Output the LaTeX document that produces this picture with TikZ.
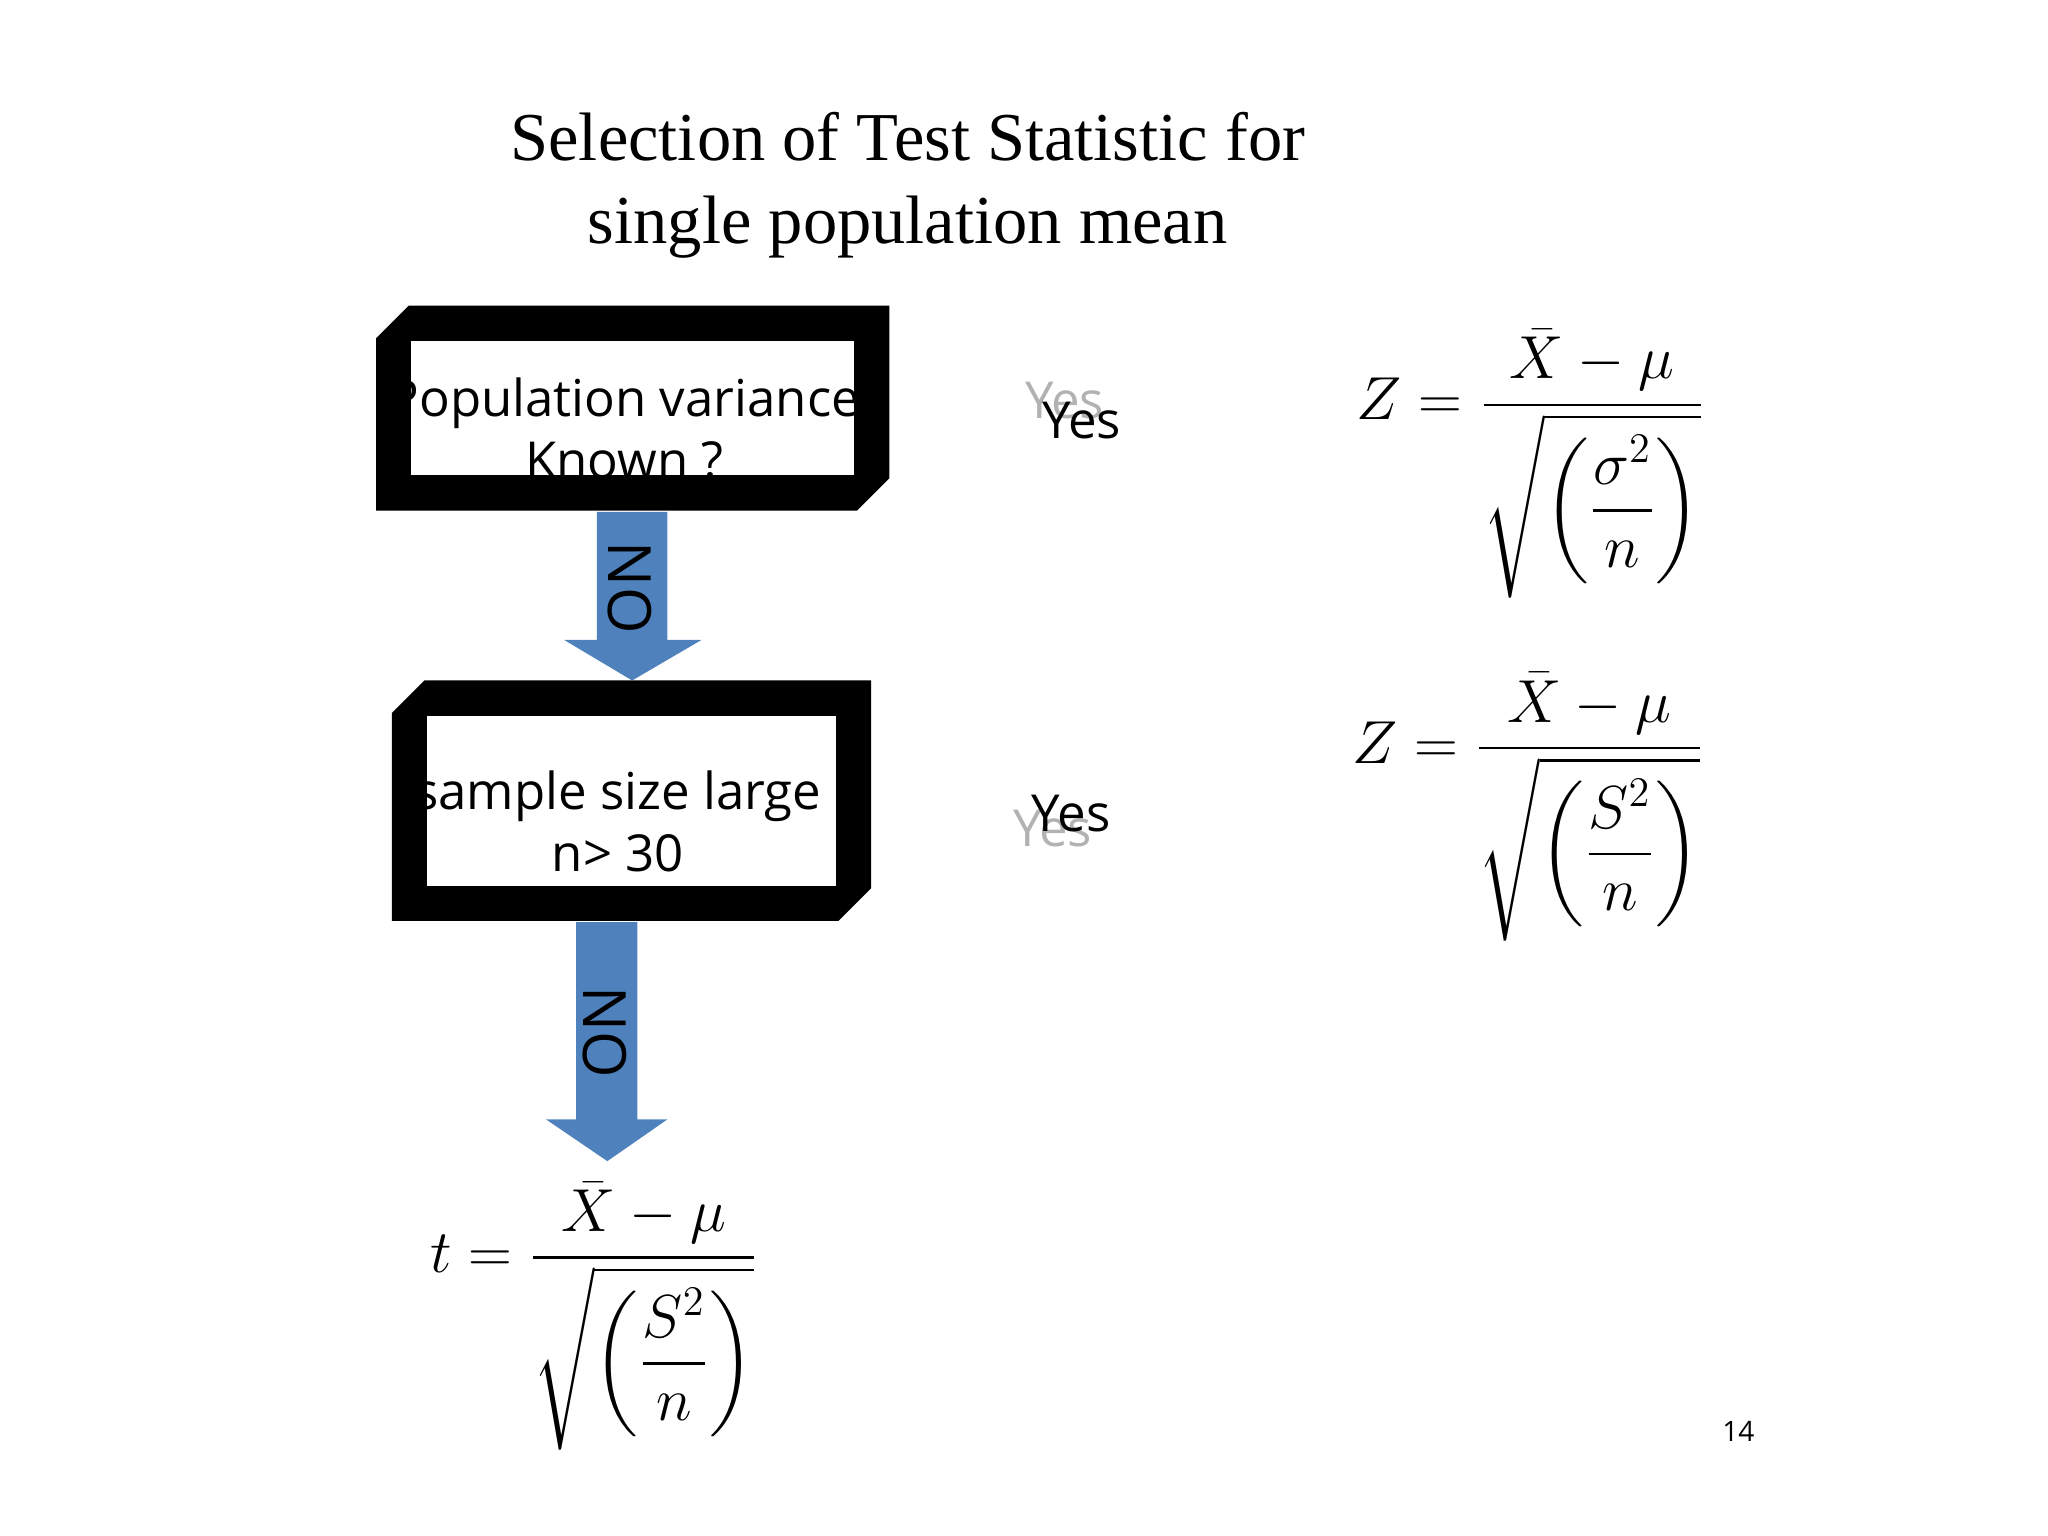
\documentclass[tikz,border=0pt]{standalone}
\usepackage{fontspec}
\usepackage{amsmath}
\setmainfont{Liberation Serif}
\newfontfamily\boxfont{Open Sans}
\usetikzlibrary{positioning,calc}
\definecolor{arrowblue}{RGB}{79,129,189}
\tikzset{
  plaque/.style={fill=black},
  boxtext/.style={font=\boxfont\fontsize{14.5}{17.5}\selectfont, align=center},
  yes/.style={font=\boxfont\fontsize{14.5}{17}\selectfont},
  ghost/.style={font=\boxfont\fontsize{14.5}{17}\selectfont, text=gray!60},
  formula/.style={font=\fontsize{17}{20}\selectfont}
}
\newcommand{\plaquebox}[6]{% x1 y1 x2 y2 cut border
  \fill[plaque] (#1+#5,#2) -- (#3,#2) -- (#3,#4-#5) -- (#3-#5,#4) -- (#1,#4) -- (#1,#2+#5) -- cycle;
  \fill[white] (#1+#6,#2+#6) rectangle (#3-#6,#4-#6);
}
\begin{document}
\begin{tikzpicture}[x=0.01306cm,y=-0.01306cm]
  \useasboundingbox (0,0) rectangle (1568,1176);
  % Title
  \node[font=\fontsize{19.5}{23.5}\selectfont, align=center] (title) at (695,142)
    {Selection of Test Statistic for\\single population mean};
  % Decision boxes
  \plaquebox{288}{234}{681}{391}{25}{27}
  \begin{scope}
    \clip (315,261) rectangle (654,364);
    \node[boxtext] (varq) at (478,328) {Population variance\\Known ?};
  \end{scope}
  \plaquebox{300}{521}{667}{705}{25}{27}
  \begin{scope}
    \clip (327,548) rectangle (640,678);
    \node[boxtext] (sizeq) at (473,629) {sample size large\\n> 30};
  \end{scope}
  % NO arrows
  \fill[arrowblue] (457,392) -- (511,392) -- (511,490) -- (537,490) -- (484,521) -- (432,490) -- (457,490) -- cycle;
  \node[font=\boxfont\fontsize{17}{20}\selectfont, rotate=-90] (no1) at (482,450) {NO};
  \fill[arrowblue] (441,706) -- (488,706) -- (488,857) -- (511,857) -- (465,889) -- (418,857) -- (441,857) -- cycle;
  \node[font=\boxfont\fontsize{17}{20}\selectfont, rotate=-90] (no2) at (463,790) {NO};
  % Yes labels
  \node[ghost] (yesg1) at (815,307) {Yes};
  \node[yes] (yes1) at (828,322) {Yes};
  \node[ghost] (yesg2) at (806,634) {Yes};
  \node[yes] (yes2) at (820,623) {Yes};
  % Formulas
  \node[formula] (zsigma) at (1172,355)
    {$Z=\dfrac{\bar{X}-\mu}{\sqrt{\left(\dfrac{\sigma^{2}}{n}\right)}}$};
  \node[formula] (zs) at (1170,618)
    {$Z=\dfrac{\bar{X}-\mu}{\sqrt{\left(\dfrac{S^{2}}{n}\right)}}$};
  \node[formula] (tstat) at (455,1008)
    {$t=\dfrac{\bar{X}-\mu}{\sqrt{\left(\dfrac{S^{2}}{n}\right)}}$};
  % Page number
  \node[font=\boxfont\fontsize{8}{10}\selectfont] (page) at (1331,1096) {14};
\end{tikzpicture}
\end{document}
